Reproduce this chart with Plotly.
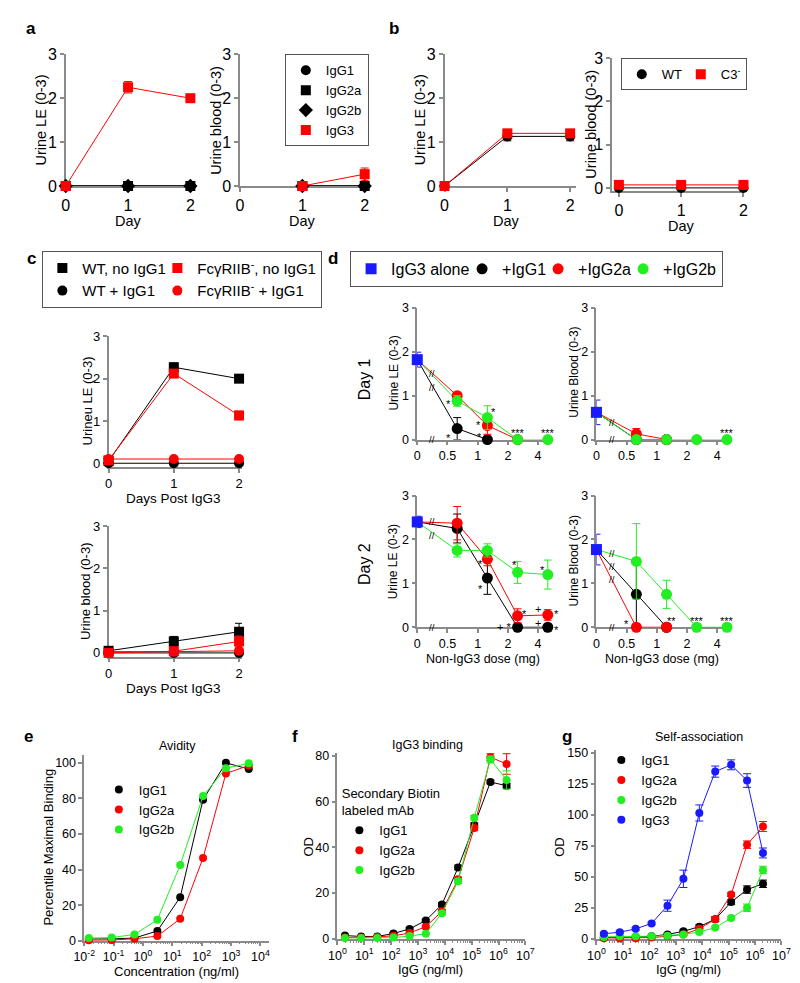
import math
import plotly.graph_objects as go

W, H = 800, 983
FONT = "Arial, Liberation Sans, Helvetica, sans-serif"
BLACK, RED, GREEN, BLUE = "#000000", "#ff0000", "#22ee22", "#1a1aff"
AXC = "#8a8a8a"

# ---------------- data ----------------
days = [0, 1, 2]
score_ticks = [0, 1, 2, 3]

# panel a
a_le_igg1 = [0, 0, 0]
a_le_igg2a = [0, 0, 0]
a_le_igg2b = [0, 0, 0]
a_le_igg3 = [0.0, 2.25, 2.0]
a_le_igg3_err = [0.0, 0.13, 0.05]
a_bl_days = [1, 2]
a_bl_igg1 = [0, 0]
a_bl_igg2a = [0, 0]
a_bl_igg2b = [0, 0]
a_bl_igg3 = [0.0, 0.27]
a_bl_igg3_err = [0.03, 0.14]

# panel b
b_le_wt = [0.0, 1.13, 1.13]
b_le_wt_err = [0.0, 0.1, 0.1]
b_le_c3 = [0.0, 1.2, 1.2]
b_le_c3_err = [0.0, 0.06, 0.06]
b_bl_wt = [0.0, 0.0, 0.0]
b_bl_c3 = [0.07, 0.07, 0.07]

# panel c
c_le_wt_no = [0.05, 2.27, 2.0]
c_le_wt_no_err = [0.0, 0.1, 0.04]
c_le_fc_no = [0.07, 2.12, 1.13]
c_le_fc_no_err = [0.0, 0.06, 0.1]
c_le_wt_ig = [0.0, 0.0, 0.0]
c_le_fc_ig = [0.1, 0.1, 0.1]
c_bl_wt_no = [0.05, 0.27, 0.5]
c_bl_wt_no_err = [0.0, 0.12, 0.2]
c_bl_fc_no = [0.0, 0.04, 0.27]
c_bl_fc_no_err = [0.0, 0.04, 0.13]
c_bl_wt_ig = [0.0, 0.0, 0.0]
c_bl_fc_ig = [0.03, 0.03, 0.05]

# panel d  (doses in mg; first dose = IgG3 alone)
doses = [0, 0.625, 1.25, 2.5, 5]
dose_ticks = [0, 0.5, 1, 2, 4]
dose_ticktext = ["0", "0.5", "1", "2", "4"]
d1_alone, d1_alone_err = 1.82, 0.17
d1_igg1, d1_igg1_err = [0.25, 0.0], [0.25, 0.0]
d1_igg2a, d1_igg2a_err = [1.0, 0.32, 0.0], [0.05, 0.2, 0.0]
d1_igg2b, d1_igg2b_err = [0.88, 0.5, 0.0, 0.0], [0.12, 0.27, 0.0, 0.0]
d2_alone, d2_alone_err = 0.62, 0.28
d2_igg1, d2_igg1_err = [0.0, 0.0], [0.0, 0.0]
d2_igg2a, d2_igg2a_err = [0.13, 0.0], [0.12, 0.0]
d2_igg2b, d2_igg2b_err = [0.0, 0.0, 0.0, 0.0], [0.0, 0.0, 0.0, 0.0]
d3_alone, d3_alone_err = 2.4, 0.13
d3_igg1, d3_igg1_err = [2.25, 1.12, 0.0, 0.0], [0.33, 0.37, 0.0, 0.0]
d3_igg2a, d3_igg2a_err = [2.37, 1.55, 0.26, 0.28], [0.38, 0.15, 0.16, 0.12]
d3_igg2b, d3_igg2b_err = [1.75, 1.75, 1.25, 1.2], [0.15, 0.15, 0.25, 0.33]
d4_alone, d4_alone_err = 1.77, 0.35
d4_igg1, d4_igg1_err = [0.75, 0.0], [0.75, 0.0]
d4_igg2a, d4_igg2a_err = [0.0, 0.0], [0.0, 0.0]
d4_igg2b, d4_igg2b_err = [1.5, 0.75, 0.0, 0.0], [0.86, 0.32, 0.0, 0.0]

# significance marks (panel, dose, y, text, xshift px)
d_marks = [
    (7, 0.625, 0.88, "*", -9), (7, 0.625, 0.1, "*", -9), (7, 1.25, 0.7, "*", 6),
    (7, 1.25, 0.4, "*", -9), (7, 1.25, 0.12, "*", -8), (7, 2.5, 0.22, "***", 0),
    (7, 5, 0.22, "***", 0),
    (8, 5, 0.22, "***", 0),
    (9, 1.25, 1.5, "*", -7), (9, 1.25, 0.95, "*", -7), (9, 2.5, 1.48, "*", -3),
    (9, 5, 1.38, "*", -5), (9, 2.5, 0.36, "*", 7), (9, 5, 0.42, "+", -10),
    (9, 5, 0.38, "*", 9), (9, 2.5, 0.07, "+ *", -14),
    (9, 5, 0.1, "+", -10), (9, 5, 0.0, "*", 9),
    (10, 0.625, 0.15, "*", -10), (10, 1.25, 0.2, "**", 5), (10, 2.5, 0.2, "***", 0),
    (10, 5, 0.2, "***", 0),
]

# panel e
e_conc = [0.0143, 0.0857, 0.514, 3.09, 18.5, 111, 667, 4000]
e_igg1 = [1.0, 1.0, 1.5, 5.5, 24.5, 79.3, 100, 96.5]
e_igg2a = [0.2, 0.4, 1.1, 2.6, 12.3, 46.5, 94, 98.5]
e_igg2b = [1.5, 1.8, 3.5, 11.8, 42.5, 81.3, 97, 99.7]

# panels f, g
fg_conc = [1.91, 7.63, 30.5, 122, 488, 1953, 7813, 31250, 125000, 500000, 2000000]
f_igg1 = [1.4, 1.0, 1.0, 2.3, 4.3, 8.0, 15.0, 31.2, 49.7, 68.6, 67.0]
f_igg1_err = [0.3, 0.3, 0.3, 0.3, 0.5, 0.5, 0.8, 1.0, 1.0, 0.8, 1.0]
f_igg2a = [0.5, 0.5, 0.8, 1.3, 2.5, 5.3, 12.0, 26.0, 48.5, 79.5, 76.5]
f_igg2a_err = [0.2, 0.2, 0.2, 0.3, 0.4, 0.6, 0.8, 1.0, 1.2, 1.5, 4.5]
f_igg2b = [0.3, 0.3, 0.3, 0.5, 1.2, 2.2, 11.2, 25.2, 53.0, 78.5, 69.5]
f_igg2b_err = [0.2, 0.2, 0.2, 0.2, 0.3, 0.4, 0.8, 1.0, 1.0, 1.5, 4.0]
g_igg1 = [1.0, 1.0, 1.5, 2.0, 3.5, 6.0, 9.8, 15.8, 29.6, 39.7, 44.4]
g_igg1_err = [0.5, 0.5, 0.5, 0.5, 0.8, 1.0, 1.5, 2.0, 2.0, 3.0, 3.0]
g_igg2a = [0.5, 0.5, 0.5, 1.0, 2.0, 3.5, 8.0, 15.8, 35.7, 76.0, 90.7]
g_igg2a_err = [0.3, 0.3, 0.3, 0.5, 0.5, 1.0, 1.5, 2.0, 1.5, 3.0, 4.0]
g_igg2b = [1.5, 2.0, 2.0, 2.0, 2.5, 3.5, 5.5, 9.0, 16.8, 25.0, 55.6]
g_igg2b_err = [0.5, 0.5, 0.5, 0.5, 0.5, 0.8, 1.0, 1.0, 1.5, 3.0, 3.0]
g_igg3 = [4.0, 5.3, 8.0, 12.4, 26.7, 48.4, 101.6, 135.0, 140.5, 127.8, 69.3]
g_igg3_err = [1.0, 1.0, 1.0, 1.0, 4.5, 7.0, 6.5, 4.5, 4.0, 5.5, 4.0]

# ---------------- helpers ----------------
ZERO_POS = -2.0   # axis position of dose 0 on the broken log2 dose axis
BREAK_POS = -1.5
MIN_GAP = 0.3     # minimum vertical spacing (score units) between break marks


def dose_pos(d):
    return math.log2(d) if d > 0 else ZERO_POS


fig = go.Figure()
layout = {}
annotations = []


def ids(n):
    s = "" if n == 1 else str(n)
    return "x" + s, "y" + s


def add_axes(n, px0, px1, pytop, pybot, xrange, yrange, xtype="linear",
             xtickvals=None, xticktext=None, ytickvals=None, tickfont=13, xminor=None):
    s = "" if n == 1 else str(n)
    common = dict(showline=True, linecolor=AXC, linewidth=1.5, ticks="outside",
                  ticklen=4, tickwidth=1.5, tickcolor=AXC, showgrid=False,
                  zeroline=False, layer="below traces",
                  tickfont=dict(size=tickfont, color="black", family=FONT))
    xa = dict(domain=[px0 / W, px1 / W], range=xrange, type=xtype, anchor="y" + s, **common)
    if xtickvals is not None:
        xa.update(tickmode="array", tickvals=xtickvals)
        if xticktext is not None:
            xa["ticktext"] = xticktext
    if xminor is not None:
        xa["minor"] = dict(tickmode="array", tickvals=xminor, ticks="outside",
                           ticklen=2, tickcolor=AXC, tickwidth=1)
    ya = dict(domain=[1 - pybot / H, 1 - pytop / H], range=yrange, anchor="x" + s, **common)
    if ytickvals is not None:
        ya.update(tickmode="array", tickvals=ytickvals)
    layout["xaxis" + s] = xa
    layout["yaxis" + s] = ya


def ann(text, x, y, size=13, angle=0, bold=False, xanchor="center"):
    annotations.append(dict(text=f"<b>{text}</b>" if bold else text, x=x / W, y=1 - y / H,
                            xref="paper", yref="paper", showarrow=False, textangle=angle,
                            xanchor=xanchor, yanchor="middle",
                            font=dict(size=size, color="black", family=FONT)))


def dann(n, x, y, text, xshift=0, yshift=0, size=11):
    xa, ya = ids(n)
    annotations.append(dict(text=text, x=x, y=y, xref=xa, yref=ya, xshift=xshift,
                            yshift=yshift, showarrow=False,
                            font=dict(size=size, color="black", family=FONT)))


def series(n, x, y, color, symbol="circle", size=10, err=None, name=None,
           legend=None, show=False, rank=1000, group=None, lines=True, markers=True,
           lwidth=None):
    """Connecting line (never in legend) + marker trace (legend entry shows marker only)."""
    xa, ya = ids(n)
    if lines:
        fig.add_trace(go.Scatter(x=x, y=y, mode="lines", xaxis=xa, yaxis=ya,
                                 line=dict(color=color, width=1), showlegend=False,
                                 cliponaxis=False, hoverinfo="skip"))
    if not markers:
        return
    tr = go.Scatter(x=x, y=y, mode="markers", xaxis=xa, yaxis=ya, name=name,
                    marker=dict(color=color, symbol=symbol, size=size, line=dict(width=0)),
                    showlegend=show, legendrank=rank, cliponaxis=False, hoverinfo="skip")
    if legend:
        tr.legend = legend
    if group:
        tr.legendgroup = group
    if lwidth:
        tr.legendwidth = lwidth
    if err is not None:
        tr.error_y = dict(type="data", array=err, color=color, thickness=1, width=4)
    fig.add_trace(tr)


# ---------------- axes ----------------
add_axes(1, 48, 182, 39, 173, [0, 2.094], [0, 3], xtickvals=days, ytickvals=score_ticks, tickfont=16)
add_axes(2, 227, 360, 39, 173, [0, 2.078], [0, 3], xtickvals=days, ytickvals=score_ticks, tickfont=16)
add_axes(3, 437, 572, 39, 173, [0, 2.093], [0, 3], xtickvals=days, ytickvals=score_ticks, tickfont=16)
add_axes(4, 609, 744, 43, 178, [-0.11, 2.0], [-0.07, 3], xtickvals=days, ytickvals=score_ticks, tickfont=16)
add_axes(5, 92, 229, 326, 459, [0, 2.045], [-0.09, 3], xtickvals=days, ytickvals=score_ticks, tickfont=13)
add_axes(6, 92, 229, 519, 652, [0, 2.045], [-0.09, 3], xtickvals=days, ytickvals=score_ticks, tickfont=13)
dtv = [dose_pos(d) for d in dose_ticks]
for n, (x0, x1, yt, yb) in zip([7, 8, 9, 10], [(409, 547, 297, 431), (593, 731, 297, 431),
                                              (409, 547, 488, 622), (593, 731, 488, 622)]):
    add_axes(n, x0, x1, yt, yb, [ZERO_POS, 2.45], [0, 3], xtickvals=dtv,
             xticktext=dose_ticktext, ytickvals=score_ticks, tickfont=12.5)


def minor_log(lo, hi):
    return [k * 10 ** p for p in range(lo, hi) for k in range(2, 10)]


def major_log(lo, hi):
    return [10 ** p for p in range(lo, hi + 1)], [f"10<sup>{p}</sup>" for p in range(lo, hi + 1)]


tv, tt = major_log(-2, 4)
add_axes(11, 67, 257, 752, 941, [-2, 4.3], [0, 104.4], xtype="log", xtickvals=tv, xticktext=tt,
         ytickvals=[0, 20, 40, 60, 80, 100], xminor=minor_log(-2, 5), tickfont=12.5)
tv, tt = major_log(0, 7)
add_axes(12, 327, 520, 750, 939, [0, 7], [0, 81.3], xtype="log", xtickvals=tv, xticktext=tt,
         ytickvals=[0, 20, 40, 60, 80], xminor=minor_log(0, 7), tickfont=12.5)
add_axes(13, 593, 783, 747, 939, [0, 7], [0, 152.4], xtype="log", xtickvals=tv, xticktext=tt,
         ytickvals=[0, 25, 50, 75, 100, 125, 150], xminor=minor_log(0, 7), tickfont=12.5)

# ---------------- panel a ----------------
for n, xs, v1, v2a, v2b in [(1, days, a_le_igg1, a_le_igg2a, a_le_igg2b),
                            (2, a_bl_days, a_bl_igg1, a_bl_igg2a, a_bl_igg2b)]:
    show = n == 1
    series(n, xs, v1, BLACK, "circle", name="IgG1", legend="legend", show=show, rank=1)
    series(n, xs, v2a, BLACK, "square", name="IgG2a", legend="legend", show=show, rank=2)
    series(n, xs, v2b, BLACK, "diamond", size=11, name="IgG2b", legend="legend", show=show, rank=3)
series(1, days, a_le_igg3, RED, "square", err=a_le_igg3_err, name="IgG3", legend="legend", show=True, rank=4)
series(2, a_bl_days, a_bl_igg3, RED, "square", err=a_bl_igg3_err, name="IgG3", legend="legend")

# ---------------- panel b ----------------
series(3, days, b_le_wt, BLACK, "circle", err=b_le_wt_err, name="WT", legend="legend2",
       show=True, rank=1, lwidth=14)
series(3, days, b_le_c3, RED, "square", err=b_le_c3_err, name="C3<sup>-</sup>", legend="legend2",
       show=True, rank=2)
series(4, days, b_bl_wt, BLACK, "circle", legend="legend2")
series(4, days, b_bl_c3, RED, "square", legend="legend2")

# ---------------- panel c ----------------
FC = "FcγRIIB<sup>-</sup>"
for n, wt_ig, fc_ig, wt_no, wt_no_e, fc_no, fc_no_e in [
        (5, c_le_wt_ig, c_le_fc_ig, c_le_wt_no, c_le_wt_no_err, c_le_fc_no, c_le_fc_no_err),
        (6, c_bl_wt_ig, c_bl_fc_ig, c_bl_wt_no, c_bl_wt_no_err, c_bl_fc_no, c_bl_fc_no_err)]:
    show = n == 5
    series(n, days, wt_ig, BLACK, "circle", name="WT + IgG1", legend="legend3", show=show,
           rank=2, group="wt", lwidth=70)
    series(n, days, fc_ig, RED, "circle", name=FC + " + IgG1", legend="legend3", show=show,
           rank=4, group="fc")
    series(n, days, wt_no, BLACK, "square", err=wt_no_e, name="WT, no IgG1", legend="legend3",
           show=show, rank=1, group="wt", lwidth=70)
    series(n, days, fc_no, RED, "square", err=fc_no_e, name=FC + ", no IgG1", legend="legend3",
           show=show, rank=3, group="fc")

# ---------------- panel d ----------------
d_panels = [
    (7, d1_alone, d1_alone_err, [(d1_igg1, d1_igg1_err), (d1_igg2a, d1_igg2a_err), (d1_igg2b, d1_igg2b_err)]),
    (8, d2_alone, d2_alone_err, [(d2_igg1, d2_igg1_err), (d2_igg2a, d2_igg2a_err), (d2_igg2b, d2_igg2b_err)]),
    (9, d3_alone, d3_alone_err, [(d3_igg1, d3_igg1_err), (d3_igg2a, d3_igg2a_err), (d3_igg2b, d3_igg2b_err)]),
    (10, d4_alone, d4_alone_err, [(d4_igg1, d4_igg1_err), (d4_igg2a, d4_igg2a_err), (d4_igg2b, d4_igg2b_err)]),
]
d_names = ["+IgG1", "+IgG2a", "+IgG2b"]
d_colors = [BLACK, RED, GREEN]
d_lwidths = [31, 40, None]
for n, alone, alone_err, sers in d_panels:
    show = n == 7
    break_ys = []
    for (vals, errs), col in zip(sers, d_colors):
        xs = [dose_pos(d) for d in doses[:len(vals) + 1]]
        series(n, xs, [alone] + vals, col, markers=False)
        x0, x1 = xs[0], xs[1]
        break_ys.append(alone + (vals[0] - alone) * (BREAK_POS - x0) / (x1 - x0))
    for (vals, errs), col, nm, rk, lw in zip(sers, d_colors, d_names, [2, 3, 4], d_lwidths):
        xs = [dose_pos(d) for d in doses[1:len(vals) + 1]]
        series(n, xs, vals, col, "circle", size=11, err=errs, name=nm, legend="legend4",
               show=show, rank=rk, lines=False, lwidth=lw)
    series(n, [dose_pos(doses[0])], [alone], BLUE, "square", size=11, err=[alone_err],
           name="IgG3 alone", legend="legend4", show=show, rank=1, lines=False, lwidth=66)
    marks = []
    for yb in sorted(break_ys):
        if not marks or yb - marks[-1] > 0.15:
            marks.append(yb)
    # keep neighbouring break marks legible: spread pairs that sit too close
    for i in range(1, len(marks)):
        gap = marks[i] - marks[i - 1]
        if gap < MIN_GAP:
            marks[i - 1] -= (MIN_GAP - gap) / 2
            marks[i] += (MIN_GAP - gap) / 2
    for yb in marks:
        dann(n, BREAK_POS, yb, "//", size=9.5)
    dann(n, BREAK_POS, 0, "//", size=9.5)

for n, d, y, txt, xs in d_marks:
    dann(n, dose_pos(d), y, txt, xshift=xs, yshift=-3 if "*" in txt else 0, size=11)

# ---------------- panel e ----------------
series(11, e_conc, e_igg1, BLACK, size=8, name="IgG1", legend="legend5", show=True, rank=1)
series(11, e_conc, e_igg2a, RED, size=8, name="IgG2a", legend="legend5", show=True, rank=2)
series(11, e_conc, e_igg2b, GREEN, size=8, name="IgG2b", legend="legend5", show=True, rank=3)

# ---------------- panel f ----------------
series(12, fg_conc, f_igg1, BLACK, size=8, err=f_igg1_err, name="IgG1", legend="legend6", show=True, rank=1)
series(12, fg_conc, f_igg2a, RED, size=8, err=f_igg2a_err, name="IgG2a", legend="legend6", show=True, rank=2)
series(12, fg_conc, f_igg2b, GREEN, size=8, err=f_igg2b_err, name="IgG2b", legend="legend6", show=True, rank=3)

# ---------------- panel g ----------------
series(13, fg_conc, g_igg1, BLACK, size=8, err=g_igg1_err, name="IgG1", legend="legend7", show=True, rank=1)
series(13, fg_conc, g_igg2a, RED, size=8, err=g_igg2a_err, name="IgG2a", legend="legend7", show=True, rank=2)
series(13, fg_conc, g_igg2b, GREEN, size=8, err=g_igg2b_err, name="IgG2b", legend="legend7", show=True, rank=3)
series(13, fg_conc, g_igg3, BLUE, size=8, err=g_igg3_err, name="IgG3", legend="legend7", show=True, rank=4)

# ---------------- text ----------------
ann("a", 12, 13, size=17, bold=True)
ann("b", 385, 13, size=17, bold=True)
ann("c", 13, 247, size=17, bold=True)
ann("d", 322, 247, size=17, bold=True)
ann("e", 10, 733, size=17, bold=True)
ann("f", 283, 733, size=17, bold=True)
ann("g", 563, 733, size=17, bold=True)

ann("Urine LE (0-3)", 23, 106, size=14.5, angle=-90)
ann("Urine blood (0-3)", 202, 106, size=14.5, angle=-90)
ann("Urine LE (0-3)", 412, 106, size=14.5, angle=-90)
ann("Urine blood (0-3)", 588, 110, size=14.5, angle=-90)
for x, y in [(112, 209), (291, 209), (501, 209), (680, 214)]:
    ann("Day", x, y, size=14.5)

ann("Urineu LE (0-3)", 70, 392, size=13, angle=-90)
ann("Urine blood (0-3)", 69, 585, size=13, angle=-90)
ann("Days Post IgG3", 159, 491, size=13.5)
ann("Days Post IgG3", 159, 684, size=13.5)

ann("Day 1", 355, 370, size=16, angle=-90)
ann("Day 2", 355, 558, size=16, angle=-90)
ann("Urine LE (0-3)", 385, 363, size=12, angle=-90)
ann("Urine Blood (0-3)", 570, 363, size=12, angle=-90)
ann("Urine LE (0-3)", 385, 555, size=12, angle=-90)
ann("Urine Blood (0-3)", 570, 555, size=12, angle=-90)
ann("Non-IgG3 dose (mg)", 476, 654, size=12.5)
ann("Non-IgG3 dose (mg)", 660, 654, size=12.5)

ann("Avidity", 163, 743, size=12.5)
ann("Percentile Maximal Binding", 30, 846, size=13, angle=-90)
ann("Concentration (ng/ml)", 162, 972, size=13)
ann("IgG3 binding", 420, 742, size=12.5)
ann("OD", 297, 845, size=13, angle=-90)
ann("IgG (ng/ml)", 423, 970, size=13)
ann("Self-association", 698, 734, size=12.5)
ann("OD", 555, 845, size=13, angle=-90)
ann("IgG (ng/ml)", 688, 970, size=13)

boxed = dict(bordercolor="#555555", borderwidth=1, bgcolor="white",
             xanchor="left", yanchor="top")
plain = dict(bgcolor="rgba(0,0,0,0)", borderwidth=0, xanchor="left", yanchor="top")

layout.update(
    width=W, height=H, margin=dict(l=0, r=0, t=0, b=0),
    paper_bgcolor="white", plot_bgcolor="rgba(0,0,0,0)",
    font=dict(family=FONT, color="black"),
    annotations=annotations, showlegend=True,
    legend=dict(x=273 / W, y=1 - 39 / H, font=dict(size=13), **boxed),
    legend2=dict(x=618 / W, y=1 - 43 / H, orientation="h", font=dict(size=13), **boxed),
    legend3=dict(x=24 / W, y=1 - 239 / H, orientation="h", traceorder="grouped",
                 tracegroupgap=0, font=dict(size=15), **boxed),
    legend4=dict(x=340 / W, y=1 - 239 / H, orientation="h", font=dict(size=16), **boxed),
    legend5=dict(x=82 / W, y=1 - 772 / H, font=dict(size=13), **plain),
    legend6=dict(x=329 / W, y=1 - 779 / H, font=dict(size=13),
                 title=dict(text="Secondary Biotin<br>labeled mAb", side="top center",
                            font=dict(size=13)), **plain),
    legend7=dict(x=598 / W, y=1 - 742 / H, font=dict(size=13), **plain),
)
fig.update_layout(**layout)
fig.write_html("out.html")
